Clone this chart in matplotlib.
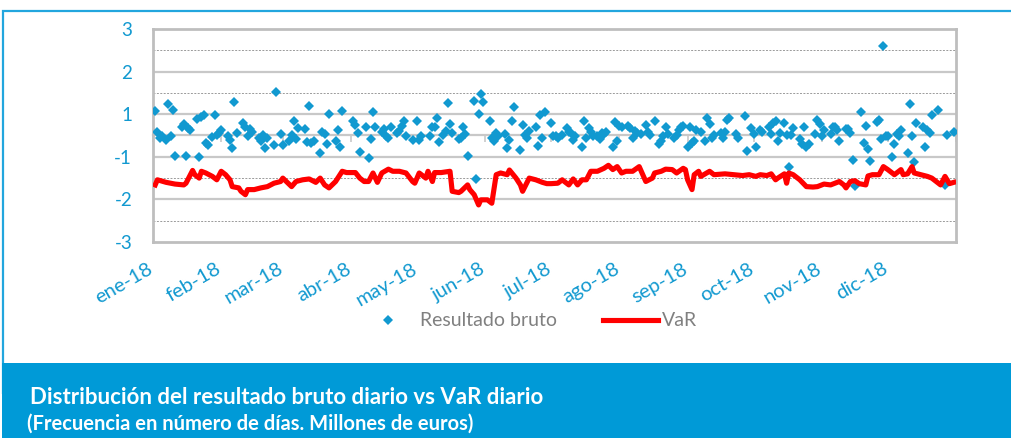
import numpy as np
import matplotlib
matplotlib.use("Agg")
import matplotlib.pyplot as plt
from matplotlib.patches import Rectangle
from matplotlib.transforms import ScaledTranslation

plt.rcParams['font.family'] = ['Lato', 'DejaVu Sans']

# ---------------- data ----------------
# day offsets from 2018-01-01 and daily gross result (millions of euros)
res_dias = [1, 2, 3, 4, 6, 7, 8, 9, 10, 13, 14, 15, 16, 17, 20, 21, 22, 23, 24, 25, 27, 28, 29, 30, 31,
            34, 35, 36, 37, 38, 41, 42, 43, 44, 45, 48, 49, 50, 51, 52, 55, 56, 58, 59,
            62, 63, 64, 65, 66, 69, 70, 71, 72, 73, 76, 77, 78, 79, 80, 83, 84, 85, 86, 91, 92, 93, 94,
            97, 98, 99, 100, 101, 104, 105, 106, 107, 108, 111, 112, 113, 114, 115, 118, 120, 121,
            122, 126, 127, 128, 129, 130, 132, 133, 134, 135, 136, 139, 140, 141, 142, 143, 146, 147,
            148, 149, 150, 153, 154, 155, 156, 157, 160, 161, 162, 163, 164, 167, 168, 169, 170, 171,
            174, 175, 176, 177, 178, 181, 182,
            183, 184, 186, 188, 189, 190, 191, 192, 195, 196, 197, 198, 199, 200, 202, 203, 204, 205,
            206, 209, 210, 211, 212, 213, 216, 217, 218, 219, 220, 222, 224, 225, 226, 228, 230, 231,
            232, 233, 234, 237, 238, 239, 240, 241, 243,
            244, 245, 246, 247, 249, 251, 252, 253, 254, 255, 258, 259, 260, 261, 262, 265, 266, 269,
            270, 272, 273, 274, 276, 277, 280, 281, 282, 283, 284, 285, 287, 288, 289, 290, 291, 294,
            295, 296, 297, 298, 301, 302, 303, 304, 305,
            308, 309, 310, 311, 312, 315, 316, 317, 318, 319, 322, 323, 324, 325, 326, 329, 330, 331,
            332, 333, 334, 336, 337, 338, 339, 340, 343, 344, 345, 346, 347, 350, 351, 352, 353, 354,
            357, 360, 361, 364]
res_valores = [0.58, 0.09, -0.06, -0.02, -0.10, 0.74, 0.00, 0.59, -0.48, 0.20, 0.27, -0.49, 0.17, 0.13,
               0.38, -0.51, 0.43, 0.47, -0.18, -0.23, -0.04, 0.49, 0.02, 0.06, 0.13,
               -0.02, -0.10, -0.30, 0.78, 0.06, 0.29, 0.21, 0.00, 0.16, 0.09, -0.06, -0.14, 0.02, -0.30,
               -0.06, -0.22, 1.02, 0.03, -0.22,
               -0.12, 0.02, 0.33, -0.08, 0.17, 0.16, -0.16, 0.70, -0.18, -0.12, -0.41, 0.09, 0.03, -0.20,
               0.51, -0.12, 0.12, -0.28, 0.58, 0.35, 0.25, 0.07, -0.38,
               0.21, -0.53, -0.08, 0.56, 0.20, 0.09, 0.15, -0.02, -0.06, 0.19, 0.07, 0.11, 0.23, 0.33,
               0.00, -0.10, 0.35, -0.10,
               -0.02, 0.00, 0.21, 0.19, 0.41, -0.16, 0.02, 0.11, 0.76, 0.27, 0.06, -0.08, -0.06, 0.19,
               0.03, -0.48, 0.82, -1.02,
               0.50, 0.97, 0.78, 0.35, -0.05, -0.14, 0.06, -0.02, 0.03, -0.30, -0.10, 0.33, 0.68, -0.34,
               0.25, 0.02, -0.05, 0.11,
               0.20, -0.24, 0.49, -0.05, 0.56, 0.29, 0.00,
               -0.02, -0.05, 0.02, 0.17, 0.09, 0.06, -0.10, -0.02, -0.26, 0.33, -0.06, 0.17, 0.09, -0.02,
               -0.02, -0.08, 0.06, 0.03,
               0.09, -0.27, 0.31, -0.14, 0.23, 0.19, 0.23, 0.17, -0.06, 0.11, 0.07, 0.03, 0.25, 0.09,
               0.02, 0.35, -0.20, -0.12,
               -0.02, 0.19, 0.03, -0.06, 0.02, 0.13, 0.19, 0.23, -0.26,
               0.21, -0.18, -0.12, 0.13, 0.09, -0.12, 0.42, 0.27, -0.06, 0.02, 0.07, -0.06, 0.09, 0.37,
               0.41, 0.03, -0.05, 0.46,
               -0.36, 0.17, 0.03, -0.26, 0.13, 0.09, 0.21, 0.03, 0.29, 0.33, -0.14, 0.07, 0.29, 0.02,
               -0.73, 0.02, 0.17, -0.08,
               -0.20, 0.19, -0.26, -0.20, 0.03, 0.37, 0.27, -0.02, 0.13,
               0.04, 0.21, 0.20, 0.13, -0.14, 0.16, 0.15, 0.07, -0.57, -1.18, 0.56, -0.18, 0.23, -0.32,
               -0.59, 0.31, 0.37, -0.08,
               2.11, -0.02, -0.01, -0.51, -0.19, 0.04, -0.01, 0.12, -0.40, 0.74, -0.01, -0.63, 0.29, 0.21,
               -0.27, 0.12, 0.07, 0.47,
               0.59, -1.16, 0.02, 0.09]

var_dias = [1, 2, 6, 10, 14, 15, 18, 19, 21, 22, 24, 27, 29, 31, 33, 35, 36, 39, 40, 42, 43, 46, 49, 52,
            55, 58, 59, 61, 63, 65, 68, 71, 74, 76, 78, 80, 83, 86, 88, 92, 94, 96, 98, 100, 102, 104,
            107, 109, 112, 115, 118, 119, 121, 124, 125, 127, 128, 131, 135, 136, 139, 140, 143, 144,
            146, 148, 149, 152, 154, 156, 158, 161, 162, 165, 167, 168, 171, 174, 177, 179, 181, 184,
            186, 189, 191, 193, 195, 197, 199, 202, 205, 207, 209, 211, 213, 215, 218, 221, 224, 227,
            228, 231, 233, 236, 238, 241, 242, 243, 245, 246, 248, 249, 253, 255, 260, 264, 268, 271,
            274, 276, 279, 281, 283, 284, 287, 288, 289, 291, 294, 297, 300, 302, 305, 308, 310, 312,
            314, 315, 317, 319, 321, 324, 325, 327, 330, 332, 334, 337, 340, 341, 343, 345, 346, 349,
            352, 354, 356, 358, 360, 362, 364]
var_valores = [-1.16, -1.04, -1.10, -1.14, -1.16, -1.12, -0.82, -0.92, -1.00, -0.84, -0.88, -0.96, -1.04,
               -0.84, -0.92, -1.04, -1.20, -1.23, -1.31, -1.39, -1.27, -1.27, -1.23, -1.20,
               -1.12, -1.08, -1.00, -1.10, -1.20, -1.08, -1.04, -1.02, -1.10, -1.00, -1.16, -1.23, -1.08,
               -0.84, -0.87, -0.87, -1.00, -1.08, -1.08, -0.88, -1.10, -0.88,
               -0.79, -0.84, -0.84, -0.88, -1.08, -1.12, -0.88, -1.00, -0.84, -1.08, -0.87, -0.87, -0.84,
               -1.31, -1.34, -1.31, -1.16, -1.27,
               -1.39, -1.63, -1.51, -1.51, -1.59, -0.92, -0.88, -0.92, -0.81, -1.00, -1.16, -1.31, -1.00,
               -1.04, -1.10, -1.13, -1.13, -1.12,
               -1.04, -1.16, -1.02, -1.16, -1.04, -1.04, -0.84, -0.84, -0.77, -0.70, -0.80, -0.73, -0.88,
               -0.84, -0.84, -0.73, -1.08, -1.00,
               -0.88, -0.84, -0.79, -0.80, -0.88, -0.77, -0.80, -1.04, -1.27, -0.92, -0.84, -0.96, -0.84,
               -0.92, -0.90, -0.92, -0.94, -0.92,
               -0.96, -0.92, -0.94, -0.90, -1.04, -1.00, -0.90, -1.12, -0.88, -0.92, -1.04, -1.20, -1.21,
               -1.20, -1.14, -1.16, -1.12, -1.08,
               -1.16, -1.23, -1.08, -1.06, -1.13, -1.16, -0.95, -0.92, -0.92, -0.73, -0.80, -0.92, -0.80,
               -0.92, -0.90, -0.73, -0.88, -0.92,
               -0.96, -1.00, -1.08, -1.16, -0.96, -1.13, -1.10]

meses = ['ene-18', 'feb-18', 'mar-18', 'abr-18', 'may-18', 'jun-18',
         'jul-18', 'ago-18', 'sep-18', 'oct-18', 'nov-18', 'dic-18']
y_ticks = [-2.5, -1.5, -0.5, 0.5, 1.5, 2.5]
y_labels = ['-3', '-2', '-1', '1', '2', '3']
y_minor = [-2, -1, 1, 2]

titulo = 'Distribución del resultado bruto diario vs VaR diario'
subtitulo = '(Frecuencia en número de días. Millones de euros)'

# ---------------- styles ----------------
AZUL = '#1199D0'
AZUL_BANDA = '#009AD7'
ROJO = '#FF0000'
GRIS = '#C8C8C8'

inicio = np.datetime64('2018-01-01')
res_fechas = inicio + np.array(res_dias).astype('timedelta64[D]')
var_fechas = inicio + np.array(var_dias).astype('timedelta64[D]')
mes_inicio = np.arange('2018-01', '2019-01', dtype='datetime64[M]').astype('datetime64[D]')
limites = np.arange('2018-01', '2019-02', dtype='datetime64[M]').astype('datetime64[D]')

fig = plt.figure(figsize=(10.11, 4.38), dpi=100)
fig.patch.set_facecolor('white')

# outer decorative frame & bottom band
fig.patches.append(Rectangle((2.5 / 1011, 0.1), 1.2, 1 - 11 / 438 - 0.1, transform=fig.transFigure,
                             fill=False, edgecolor='#22A6DE', linewidth=1.6, zorder=0))
fig.patches.append(Rectangle((2 / 1011, -0.1), 1.2, 0.1 + (438 - 363) / 438,
                             transform=fig.transFigure, facecolor=AZUL_BANDA,
                             edgecolor='none', zorder=1))

ax = fig.add_axes([153 / 1011, 1 - 242 / 438, 803 / 1011, 213 / 438])
ax.set_xlim(inicio, np.datetime64('2019-01-01'))
ax.set_ylim(-2.5, 2.5)

# gridlines
for v in y_ticks[1:-1]:
    ax.axhline(v, color=GRIS, linewidth=1.6, zorder=1)
for v in y_minor:
    ax.axhline(v, color='#9A9A9A', linewidth=0.7, linestyle=(0, (2, 1.5)), zorder=1)

ax.set_yticks(y_ticks)
ax.set_yticklabels(y_labels)
ax.tick_params(axis='y', length=0, pad=15, labelsize=13.5, labelcolor=AZUL)

ax.set_xticks(mes_inicio)
ax.set_xticklabels(meses, rotation=30, ha='right', rotation_mode='default')
ax.tick_params(axis='x', length=0, pad=13, labelsize=14.5, labelcolor=AZUL)
desplaza = ScaledTranslation(3 / 100, 0, fig.dpi_scale_trans)
for lab in ax.get_xticklabels():
    lab.set_transform(lab.get_transform() + desplaza)

for s in ax.spines.values():
    s.set_color('#BEBEBE')
    s.set_linewidth(2)

# horizontal category axis crossing at 0 with month tick marks
sec = ax.secondary_xaxis(0.5)
sec.set_xticks(limites)
sec.set_xticklabels([])
sec.tick_params(axis='x', direction='in', length=5, width=1.2, color=GRIS)
for s in sec.spines.values():
    s.set_color(GRIS)
    s.set_linewidth(1.6)

ax.plot(res_fechas, res_valores, linestyle='none', marker='D', markersize=5,
        color=AZUL, markeredgewidth=0, label='Resultado bruto', zorder=3)
ax.plot(var_fechas, var_valores, color=ROJO, linewidth=3.7, solid_joinstyle='round',
        label='VaR', zorder=4)

handles, labels = ax.get_legend_handles_labels()
leg = fig.legend(handles, labels, loc='center', bbox_to_anchor=(529 / 1011, 1 - 321 / 438),
                 ncol=2, frameon=False, fontsize=14, handlelength=2.8, columnspacing=2.4,
                 handletextpad=0.2)
for t in leg.get_texts():
    t.set_color('#808080')

fig.text(30 / 1011, 1 - 398 / 438, titulo, color='white', fontsize=16, fontweight='bold',
         va='center', ha='left')
fig.text(27 / 1011, 1 - 424 / 438, subtitulo, color='white', fontsize=14.5, fontweight='bold',
         va='center', ha='left')

fig.savefig('out.png', dpi=100, facecolor='white')
